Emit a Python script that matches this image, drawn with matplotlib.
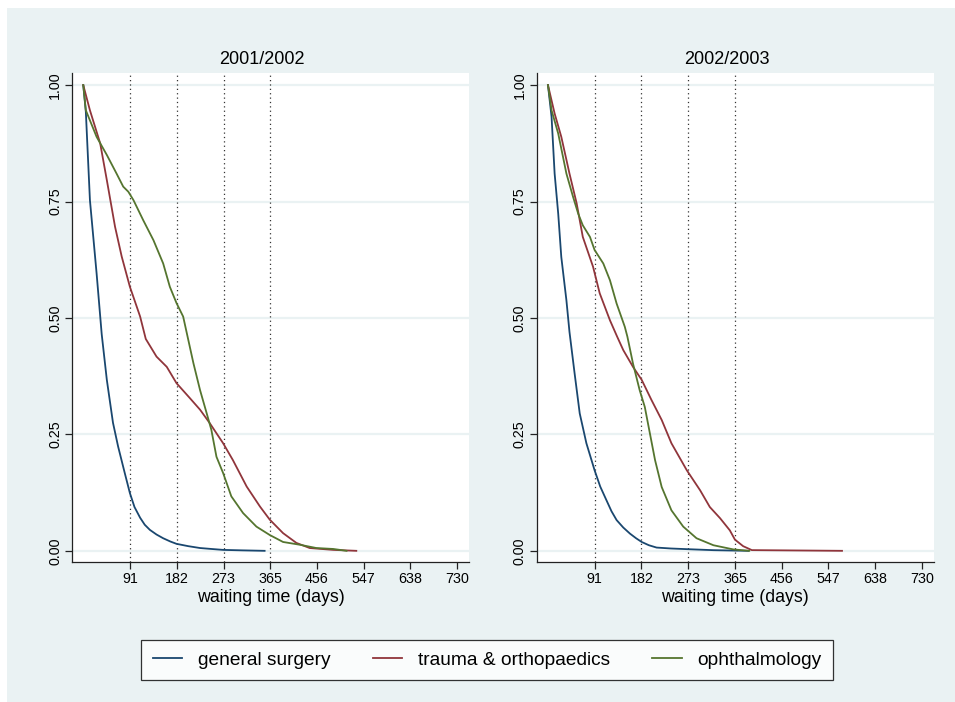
import matplotlib
matplotlib.use("Agg")
import matplotlib.pyplot as plt
from matplotlib.patches import Rectangle

plt.rcParams['font.family'] = ['Liberation Sans', 'DejaVu Sans']

# survival curves (days, proportion still waiting)
titles = ["2001/2002", "2002/2003"]
labels = ["general surgery", "trauma & orthopaedics", "ophthalmology"]
colors = ["#1a476f", "#90353b", "#55752f"]

gs_01_days = [0, 5, 13, 26, 36, 46, 58, 68, 81, 91, 100, 111, 120, 130, 143, 156, 170, 182, 205, 228, 250, 273, 310, 354]
gs_01_surv = [1.0, 0.943, 0.753, 0.596, 0.465, 0.367, 0.275, 0.224, 0.167, 0.124, 0.094, 0.071, 0.056, 0.045, 0.035, 0.027, 0.020, 0.015, 0.010, 0.006, 0.004, 0.002, 0.001, 0.0]

to_01_days = [0, 13, 33, 46, 62, 75, 91, 111, 122, 143, 163, 182, 208, 228, 247, 273, 292, 319, 345, 364, 390, 416, 442, 488, 533]
to_01_surv = [1.0, 0.946, 0.875, 0.796, 0.696, 0.632, 0.567, 0.503, 0.455, 0.417, 0.395, 0.360, 0.328, 0.303, 0.274, 0.231, 0.195, 0.138, 0.095, 0.067, 0.038, 0.017, 0.006, 0.002, 0.0]

op_01_days = [0, 5, 26, 46, 65, 78, 88, 98, 117, 137, 156, 169, 182, 195, 203, 215, 228, 241, 250, 260, 273, 289, 312, 338, 364, 390, 423, 455, 488, 514]
op_01_surv = [1.0, 0.946, 0.889, 0.850, 0.810, 0.782, 0.771, 0.753, 0.710, 0.667, 0.617, 0.567, 0.532, 0.503, 0.463, 0.403, 0.345, 0.295, 0.260, 0.202, 0.167, 0.117, 0.081, 0.052, 0.034, 0.019, 0.013, 0.006, 0.004, 0.0]

gs_02_days = [0, 7, 13, 20, 26, 36, 42, 52, 62, 75, 91, 102, 114, 124, 134, 147, 160, 172, 183, 197, 212, 240, 271, 323, 391]
gs_02_surv = [1.0, 0.932, 0.810, 0.724, 0.631, 0.538, 0.470, 0.381, 0.295, 0.231, 0.173, 0.138, 0.109, 0.085, 0.066, 0.050, 0.037, 0.027, 0.019, 0.012, 0.007, 0.005, 0.0036, 0.0014, 0.0]

to_02_days = [0, 13, 26, 42, 56, 68, 88, 101, 121, 135, 147, 166, 183, 202, 222, 241, 271, 297, 316, 336, 355, 365, 381, 398, 574]
to_02_surv = [1.0, 0.939, 0.889, 0.810, 0.746, 0.674, 0.610, 0.553, 0.495, 0.460, 0.431, 0.395, 0.367, 0.324, 0.281, 0.231, 0.173, 0.130, 0.094, 0.070, 0.044, 0.024, 0.010, 0.0015, 0.0]

op_02_days = [0, 7, 20, 36, 49, 59, 68, 82, 91, 108, 121, 134, 150, 155, 166, 179, 189, 199, 209, 222, 241, 264, 290, 323, 362, 393]
op_02_surv = [1.0, 0.946, 0.896, 0.810, 0.760, 0.724, 0.699, 0.674, 0.646, 0.617, 0.581, 0.531, 0.481, 0.460, 0.402, 0.345, 0.309, 0.252, 0.195, 0.137, 0.087, 0.052, 0.027, 0.012, 0.003, 0.0]

panels = [
    [(gs_01_days, gs_01_surv), (to_01_days, to_01_surv), (op_01_days, op_01_surv)],
    [(gs_02_days, gs_02_surv), (to_02_days, to_02_surv), (op_02_days, op_02_surv)],
]

xticks = [91.25, 182.5, 273.75, 365, 456.25, 547.5, 638.75, 730]
xticklabels = ["91", "182", "273", "365", "456", "547", "638", "730"]
yticks = [0, 0.25, 0.5, 0.75, 1.0]
yticklabels = ["0.00", "0.25", "0.50", "0.75", "1.00"]
quarter_lines = [91.25, 182.5, 273.75, 365]

bg = "#eaf2f3"
fig = plt.figure(figsize=(9.55, 7.02), dpi=100, facecolor="white")
fig.patches.append(Rectangle((7 / 955, 0), 1, 1 - 8 / 702, transform=fig.transFigure,
                             facecolor=bg, edgecolor="none", zorder=-10))

lefts = [72 / 955, 536.7 / 955]
title_x = [262 / 955, 727 / 955]
handles = []
for i, ax_left in enumerate(lefts):
    ax = fig.add_axes([ax_left, 1 - 562 / 702, 397 / 955, 489 / 702])
    ax.set_facecolor("white")
    for yv in yticks:
        ax.axhline(yv, color=bg, lw=1.6, zorder=1)
    for xv in quarter_lines:
        ax.axvline(xv, color="#333333", lw=0.9, ls=(0, (1, 2.5)), zorder=2)
    handles = []
    for (d, s), c, lab in zip(panels[i], colors, labels):
        h, = ax.plot(d, s, color=c, lw=1.3, label=lab, zorder=3)
        handles.append(h)
    ax.set_xlim(-22, 753)
    ax.set_ylim(-0.024, 1.026)
    ax.set_xticks(xticks)
    ax.set_xticklabels(xticklabels, fontsize=10.3)
    ax.set_yticks(yticks)
    ax.set_yticklabels(yticklabels, fontsize=10.3, rotation=90, va="center")
    ax.tick_params(length=5, width=0.9, color="#222222", pad=2)
    for side in ["top", "right"]:
        ax.spines[side].set_visible(False)
    for side in ["left", "bottom"]:
        ax.spines[side].set_color("#222222")
        ax.spines[side].set_linewidth(0.9)
    ax.set_xlabel("waiting time (days)", fontsize=12.8, labelpad=2.5)
    fig.text(title_x[i], 1 - 59 / 702, titles[i], ha="center", va="center", fontsize=13)

leg = fig.legend(handles, labels, ncol=3, loc="center", bbox_to_anchor=(487 / 955, 1 - 660 / 702),
                 fontsize=13.8, frameon=True, fancybox=False, handlelength=1.55,
                 columnspacing=2.2, handletextpad=0.8, borderpad=0.6, borderaxespad=0)
leg.get_frame().set_edgecolor("black")
leg.get_frame().set_linewidth(0.9)
leg.get_frame().set_facecolor("white")

fig.savefig("out.png", dpi=100, facecolor=fig.get_facecolor())
